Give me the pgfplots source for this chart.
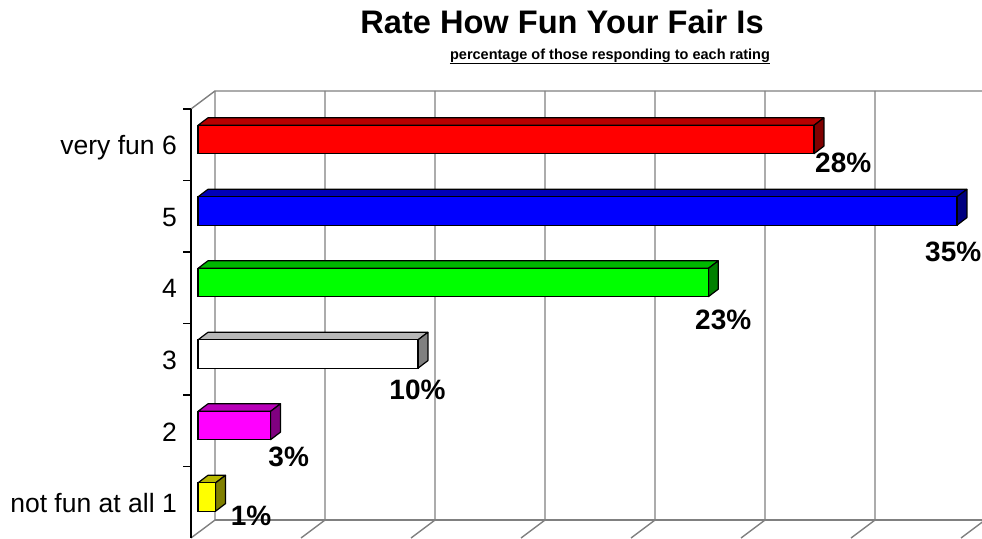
\documentclass[border=0pt]{standalone}
\usepackage{fontspec}
\setmainfont{Liberation Sans}
\usepackage{graphicx}
\usepackage{pgfplots}
\pgfplotsset{compat=1.18}
\usepackage{pgfplotstable}

\definecolor{cRed}{RGB}{255,0,0}
\definecolor{cBlue}{RGB}{0,0,255}
\definecolor{cGreen}{RGB}{0,255,0}
\definecolor{cWhite}{RGB}{255,255,255}
\definecolor{cMagenta}{RGB}{255,0,255}
\definecolor{cYellow}{RGB}{255,255,0}
\definecolor{cGrid}{RGB}{128,128,128}

% bar data: value, category position (1 = not fun at all ... 6 = very fun), colour
\newcommand\tdbar[3]{%
  \pgfmathsetmacro\xa{#1+0.45}%
  \pgfmathsetmacro\yt{#2+0.198}%
  \pgfmathsetmacro\yb{#2-0.198}%
  \pgfmathsetmacro\ytt{#2+0.198+0.105}%
  \pgfmathsetmacro\ybb{#2-0.198+0.105}%
  \edef\tmp{%
    \noexpand\addplot[fill=#3!72!black, draw=black, line width=1.2pt, line join=round] coordinates {(0,\yt) (#1,\yt) (\xa,\ytt) (0.45,\ytt)} -- cycle;
    \noexpand\addplot[fill=#3!50!black, draw=black, line width=1.2pt, line join=round] coordinates {(#1,\yt) (#1,\yb) (\xa,\ybb) (\xa,\ytt)} -- cycle;
    \noexpand\addplot[xbar, bar width=28.3pt, bar shift=0pt, fill=#3, draw=black, line width=1.2pt] coordinates {(#1,#2)};
  }%
  \tmp
}

\begin{document}
\begin{tikzpicture}[x=1pt,y=1pt]
\path[use as bounding box] (0,0) rectangle (982,538);

\node[anchor=base, inner sep=0pt, font=\bfseries\fontsize{32.6}{36}\selectfont] at (562,504.7)
  {Rate How Fun Your Fair Is};
\node[anchor=base, inner sep=0pt, font=\bfseries\fontsize{14.5}{17}\selectfont] (sub) at (610,478)
  {percentage of those responding to each rating};
\draw[line width=1.4pt] ([yshift=-3.6pt]sub.base west) -- ([yshift=-3.6pt]sub.base east);

\begin{axis}[
  at={(198pt,5.25pt)}, anchor=south west,
  scale only axis, width=770pt, height=429pt,
  xmin=0, xmax=35, ymin=0.5, ymax=6.5,
  clip=false,
  axis line style={draw=none},
  xtick=\empty,
  ytick={1,2,3,4,5,6},
  yticklabels={not fun at all 1,2,3,4,5,very fun 6},
  major tick length=0pt,
  yticklabel style={font=\fontsize{26.5}{30}\selectfont, inner sep=0pt, anchor=base east, xshift=-21pt, yshift=-15.5pt},
]
% back wall gridlines with floor diagonals
\addplot[cGrid, line width=1.4pt] coordinates {(-0.3182,0.4266) (0.7727,0.6783) (0.7727,6.6783)};
\addplot[cGrid, line width=1.4pt] coordinates {(4.6818,0.4266) (5.7727,0.6783) (5.7727,6.6783)};
\addplot[cGrid, line width=1.4pt] coordinates {(9.6818,0.4266) (10.7727,0.6783) (10.7727,6.6783)};
\addplot[cGrid, line width=1.4pt] coordinates {(14.6818,0.4266) (15.7727,0.6783) (15.7727,6.6783)};
\addplot[cGrid, line width=1.4pt] coordinates {(19.6818,0.4266) (20.7727,0.6783) (20.7727,6.6783)};
\addplot[cGrid, line width=1.4pt] coordinates {(24.6818,0.4266) (25.7727,0.6783) (25.7727,6.6783)};
\addplot[cGrid, line width=1.4pt] coordinates {(29.6818,0.4266) (30.7727,0.6783) (30.7727,6.6783)};
\addplot[cGrid, line width=1.4pt] coordinates {(34.6818,0.4266) (35.7727,0.6783) (35.7727,6.6783)};
% wall edges
\addplot[cGrid, line width=1.4pt] coordinates {(-0.3182,6.4266) (0.7727,6.6783) (35.7727,6.6783)};
\addplot[cGrid, line width=1.4pt] coordinates {(0.7727,0.6783) (35.7727,0.6783)};
% front left axis with ticks
\addplot[black, line width=1.3pt] coordinates {(-0.3182,0.4266) (-0.3182,6.4266)};
\addplot[black, line width=1.3pt, unbounded coords=jump] coordinates {
 (-0.6818,6.4266) (-0.3182,6.4266) (nan,nan)
 (-0.6818,5.4266) (-0.3182,5.4266) (nan,nan)
 (-0.6818,4.4266) (-0.3182,4.4266) (nan,nan)
 (-0.6818,3.4266) (-0.3182,3.4266) (nan,nan)
 (-0.6818,2.4266) (-0.3182,2.4266) (nan,nan)
 (-0.6818,1.4266) (-0.3182,1.4266)};

% bars
\tdbar{28.0}{6}{cRed}
\tdbar{34.5}{5}{cBlue}
\tdbar{23.2}{4}{cGreen}
\tdbar{10.0}{3}{cWhite}
\tdbar{3.3}{2}{cMagenta}
\tdbar{0.8}{1}{cYellow}

% value labels (anchor positions)
\addplot[draw=none, mark=none,
  point meta=explicit symbolic, nodes near coords,
  nodes near coords style={anchor=north west, inner sep=0pt, font=\bfseries\fontsize{28}{30}\selectfont}]
  table[meta=label] {
x y label
28.045 5.8112 28\%
33.045 4.5706 35\%
22.591 3.6252 23\%
8.695 2.6462 10\%
3.195 1.7035 3\%
1.486 0.8741 1\%
};
\end{axis}
\end{tikzpicture}
\end{document}
